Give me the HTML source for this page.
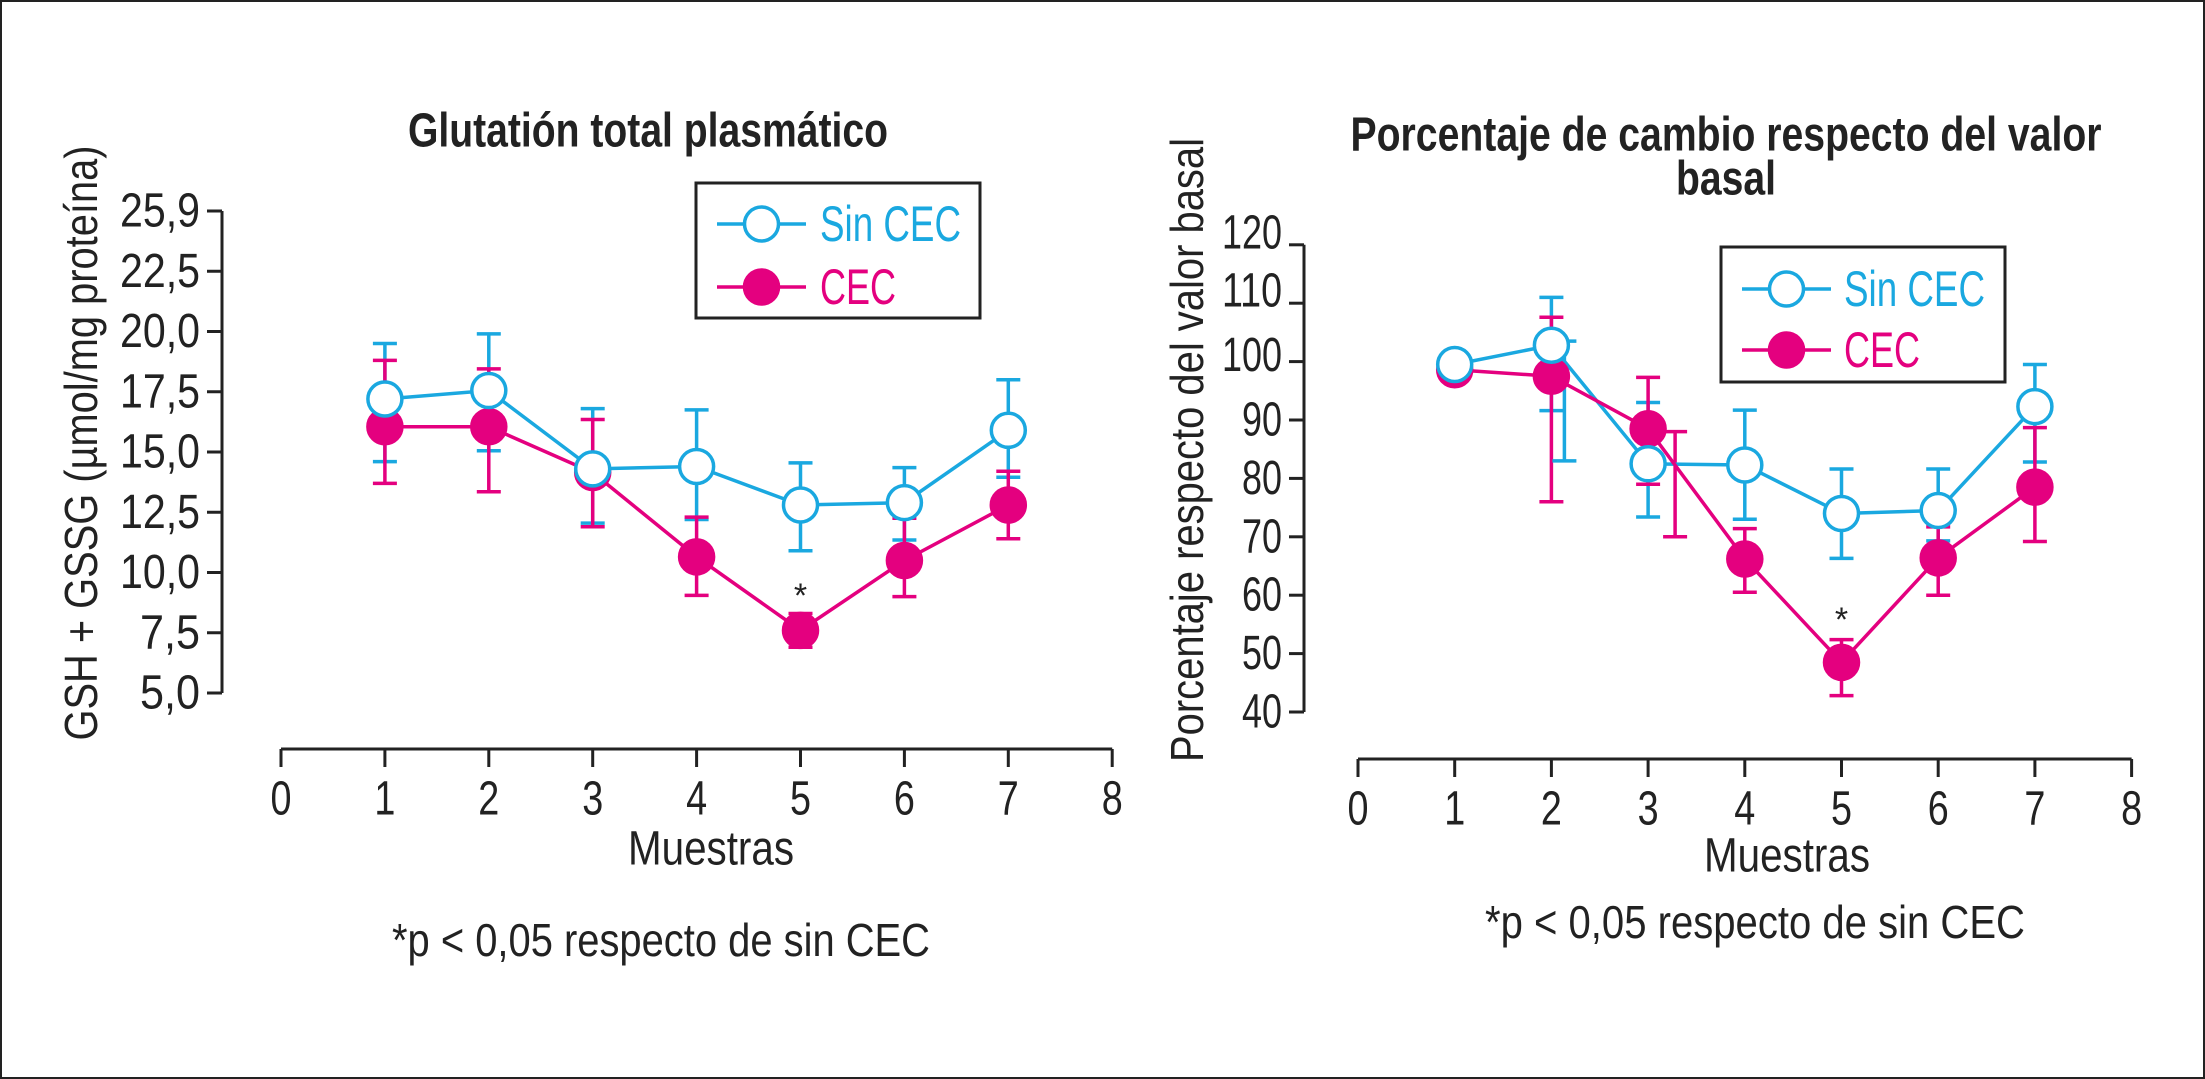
<!DOCTYPE html>
<html><head><meta charset="utf-8"><style>
html,body{margin:0;padding:0;background:#fff}
svg{display:block}
text{font-family:"Liberation Sans",sans-serif}
</style></head><body>
<svg id="chart" width="2205" height="1079" viewBox="0 0 2205 1079" xmlns="http://www.w3.org/2000/svg">
<rect x="1" y="1" width="2203" height="1077" fill="#fff" stroke="#222" stroke-width="2"/>
<g id="L"></g>
<g id="R"></g>
</svg>
<script>
// ---- data ----
const categories = [1,2,3,4,5,6,7];
const gshSin = [17.2,17.55,14.3,14.4,12.8,12.9,15.9];
const gshSinHi = [19.5,19.9,16.8,16.75,14.55,14.35,18.0];
const gshSinLo = [14.6,15.05,12.05,12.2,10.9,11.35,13.95];
const gshCec = [16.05,16.05,14.15,10.65,7.6,10.5,12.8];
const gshCecHi = [18.8,18.45,16.35,12.3,8.3,12.25,14.2];
const gshCecLo = [13.7,13.35,11.9,9.05,6.9,9.0,11.4];
const pctSin = [99.5,102.8,82.5,82.3,74,74.5,92.3];
const pctSinHi = [99.5,111,93,91.7,81.6,81.6,99.5];
const pctSinLo = [99.5,91.6,73.4,73,66.3,69.3,82.8];
const pctCec = [98.6,97.5,88.5,66.2,48.5,66.4,78.5];
const pctCecHi = [98.6,107.6,97.3,71.4,52.4,71.7,88.7];
const pctCecLo = [98.6,76,79,60.5,42.8,60,69.2];
const xTicks = [0,1,2,3,4,5,6,7,8];
const gshTicks = [5,7.5,10,12.5,15,17.5,20,22.5,25];
const gshTickLabels = ["5,0","7,5","10,0","12,5","15,0","17,5","20,0","22,5","25,9"];
const pctTicks = [40,50,60,70,80,90,100,110,120];

const NS="http://www.w3.org/2000/svg";
const CY="#1aa8e0", MG="#e4007f";
const R=17, SW=3.5;
function el(parent,tag,attrs){const e=document.createElementNS(NS,tag);for(const k in attrs)e.setAttribute(k,attrs[k]);parent.appendChild(e);return e;}
function txt(parent,x,y,s,size,opts){opts=opts||{};const t=el(parent,'text',{x:x,y:y,'font-size':size,'text-anchor':opts.anchor||'middle','dominant-baseline':'central',fill:opts.fill||'#222'});
 if(opts.bold)t.setAttribute('font-weight','bold');
 if(opts.len){t.setAttribute('textLength',opts.len);t.setAttribute('lengthAdjust','spacingAndGlyphs');}
 if(opts.rot)t.setAttribute('transform','rotate(-90 '+x+' '+y+')');
 t.textContent=s;return t;}

function drawChart(g,cfg){
 const X=v=>cfg.x0+v*cfg.xu, Y=v=>cfg.y0-(v-cfg.v0)*cfg.yu;
 cfg.title.forEach(t=>{const e=txt(g,t[0],t[1],t[2],48,{bold:true,len:t[3]});
  
  });
 const ya=el(g,'line',{x1:cfg.yx,y1:Y(cfg.yTicks[cfg.yTicks.length-1]),x2:cfg.yx,y2:Y(cfg.yTicks[0]),stroke:'#222','stroke-width':3});
 
 
 cfg.yTicks.forEach((v,i)=>{el(g,'line',{x1:cfg.yx-15,y1:Y(v),x2:cfg.yx,y2:Y(v),stroke:'#222','stroke-width':3});
  const t=txt(g,cfg.yx-22,Y(v)+cfg.labShift[i],cfg.yLabels[i],48,{anchor:'end',len:cfg.yLabels[i].length*cfg.charW});
  
  });
 const xa=el(g,'line',{x1:X(0),y1:cfg.xy,x2:X(8),y2:cfg.xy,stroke:'#222','stroke-width':3});
 
 
 xTicks.forEach(v=>{el(g,'line',{x1:X(v),y1:cfg.xy,x2:X(v),y2:cfg.xy+18,stroke:'#222','stroke-width':3});
  const t=txt(g,X(v),cfg.xy+50,String(v),48,{len:21});
  
  });
 const xt=txt(g,cfg.mx,cfg.my,'Muestras',48,{len:166});
 
 
 const yt=txt(g,cfg.ytx,cfg.yty,cfg.yTitle,46,{rot:true,len:cfg.ytLen});
 
 
 const fn=txt(g,cfg.fx,cfg.fy,'*p < 0,05 respecto de sin CEC',46,{anchor:'start',len:cfg.fLen});
 
 
 const series=[{v:cfg.sin,hi:cfg.sinHi,lo:cfg.sinLo,c:CY,fill:'#fff',n:'sin-cec'},{v:cfg.cec,hi:cfg.cecHi,lo:cfg.cecLo,c:MG,fill:MG,n:'cec'}];
 series.forEach(s=>{
  categories.forEach((c,i)=>{ if(s.hi[i]===s.lo[i])return;
   const eb=el(g,'path',{d:`M${X(c)-12},${Y(s.hi[i])}H${X(c)+12}M${X(c)},${Y(s.hi[i])}V${Y(s.lo[i])}M${X(c)-12},${Y(s.lo[i])}H${X(c)+12}`,stroke:s.c,'stroke-width':SW,fill:'none'});
   
   });
 });
 (cfg.extra||[]).forEach(e=>{const s=e.s==='sin'?CY:MG;const xx=X(e.c)+e.dx;
  const eb=el(g,'path',{d:`M${xx-12},${Y(e.hi)}H${xx+12}M${xx},${Y(e.hi)}V${Y(e.lo)}M${xx-12},${Y(e.lo)}H${xx+12}`,stroke:s,'stroke-width':SW,fill:'none'});
  
  });
 series.forEach(s=>{
  const ln=el(g,'polyline',{points:categories.map((c,i)=>X(c)+','+Y(s.v[i])).join(' '),fill:'none',stroke:s.c,'stroke-width':SW});
  
  
 });
 series.slice().reverse().forEach(s=>{
  categories.forEach((c,i)=>{const p=el(g,'circle',{cx:X(c),cy:Y(s.v[i]),r:R,fill:s.fill,stroke:s.c,'stroke-width':SW});
   
   });
 });
 const st=txt(g,X(5),cfg.starY,'*',34);
 
 
 const L=cfg.leg;
 const lg=el(g,'g',{});
 
 
 el(lg,'rect',{x:L.x,y:L.y,width:L.w,height:L.h,fill:'#fff',stroke:'#222','stroke-width':3});
 [[L.r1,CY,'#fff','Sin CEC',141,'legend-entry-sin-cec'],[L.r2,MG,MG,'CEC',76,'legend-entry-cec']].forEach(r=>{
  const eg=el(lg,'g',{});
  
  
  el(eg,'line',{x1:L.lx1,y1:r[0],x2:L.lx2,y2:r[0],stroke:r[1],'stroke-width':SW});
  el(eg,'circle',{cx:(L.lx1+L.lx2)/2,cy:r[0],r:R,fill:r[2],stroke:r[1],'stroke-width':SW});
  txt(eg,L.tx,r[0],r[3],50,{anchor:'start',fill:r[1],len:r[4]});
 });
}

drawChart(document.getElementById('L'),{
 x0:281,xu:103.9,xy:749,y0:693,v0:5,yu:60.25/2.5,yx:222,
 yTicks:gshTicks,yLabels:gshTickLabels,labShift:[0,0,0,0,0,0,0,0,0],charW:20,
 title:[[648,131,'Glutatión total plasmático',480]],
 mx:711,my:849,ytx:81,yty:443,ytLen:595,yTitle:'GSH + GSSG (µmol/mg proteína)',
 fx:392,fy:940,fLen:538,
 sin:gshSin,sinHi:gshSinHi,sinLo:gshSinLo,cec:gshCec,cecHi:gshCecHi,cecLo:gshCecLo,
 starY:596,
 leg:{x:696,y:183,w:284,h:135,r1:224,r2:287,lx1:717,lx2:806,tx:820}
});
drawChart(document.getElementById('R'),{
 x0:1358,xu:96.7,xy:759,y0:712,v0:40,yu:5.84,yx:1304,
 yTicks:pctTicks,yLabels:pctTicks.map(String),labShift:[0,0,0,0,0,0,-6,-12,-12],charW:20,
 title:[[1726,135,'Porcentaje de cambio respecto del valor',751],[1726,179,'basal',100]],
 mx:1787,my:856,ytx:1187,yty:450,ytLen:624,yTitle:'Porcentaje respecto del valor basal',
 fx:1485,fy:922,fLen:540,
 sin:pctSin,sinHi:pctSinHi,sinLo:pctSinLo,cec:pctCec,cecHi:pctCecHi,cecLo:pctCecLo,
 extra:[{s:'sin',c:2,dx:13,hi:103.5,lo:83},{s:'cec',c:3,dx:27,hi:88,lo:70}],
 starY:620,
 leg:{x:1721,y:247,w:284,h:135,r1:289,r2:350,lx1:1742,lx2:1831,tx:1844}
});
</script>
</body></html>
